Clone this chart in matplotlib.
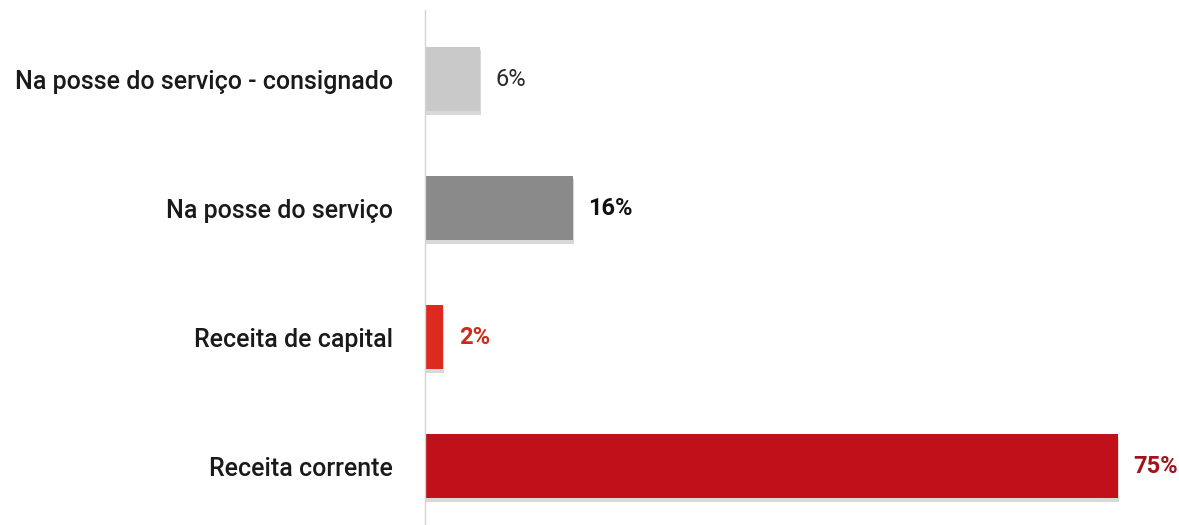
import matplotlib.pyplot as plt
import matplotlib.patheffects as pe

categorias = ['Na posse do serviço - consignado', 'Na posse do serviço',
              'Receita de capital', 'Receita corrente']
valores = [6, 16, 2, 75]
rotulos = ['6%', '16%', '2%', '75%']

cores = ['#c9c9c9', '#8a8a8a', '#dc2a1e', '#c0111b']
cores_texto = ['#2a2a2a', '#111111', '#cc2a1a', '#a3121a']
pesos_texto = ['normal', 'bold', 'bold', 'bold']

plt.rcParams['font.family'] = ['Roboto', 'DejaVu Sans']

fig = plt.figure(figsize=(11.79, 5.25), dpi=100)
ax = fig.add_axes([425 / 1179, 0, 1 - 425 / 1179, 515 / 525])

pos = list(range(len(categorias)))
bars = ax.barh(pos, valores, height=0.5, color=cores, zorder=2)
for b in bars:
    b.set_path_effects([pe.SimplePatchShadow(offset=(0.5, -2.5), shadow_rgbFace='#aaaaaa', alpha=0.45),
                        pe.Normal()])

for p, v, t, c, w in zip(pos, valores, rotulos, cores_texto, pesos_texto):
    ax.annotate(t, (v, p), xytext=(11, 0), textcoords='offset points',
                va='center', ha='left', fontsize=17, color=c, fontweight=w)

ax.set_xlim(0, 81.6)
ax.set_ylim(3.457, -0.535)
ax.set_yticks(pos)
ax.set_yticklabels(categorias, fontsize=18, fontweight='medium', color='#1a1a1a')
ax.tick_params(axis='y', length=0, pad=23)
ax.set_xticks([])

for s in ['top', 'right', 'bottom']:
    ax.spines[s].set_visible(False)
ax.spines['left'].set_color('#d4d4d4')
ax.spines['left'].set_linewidth(1)

plt.savefig('out.png', dpi=100)
